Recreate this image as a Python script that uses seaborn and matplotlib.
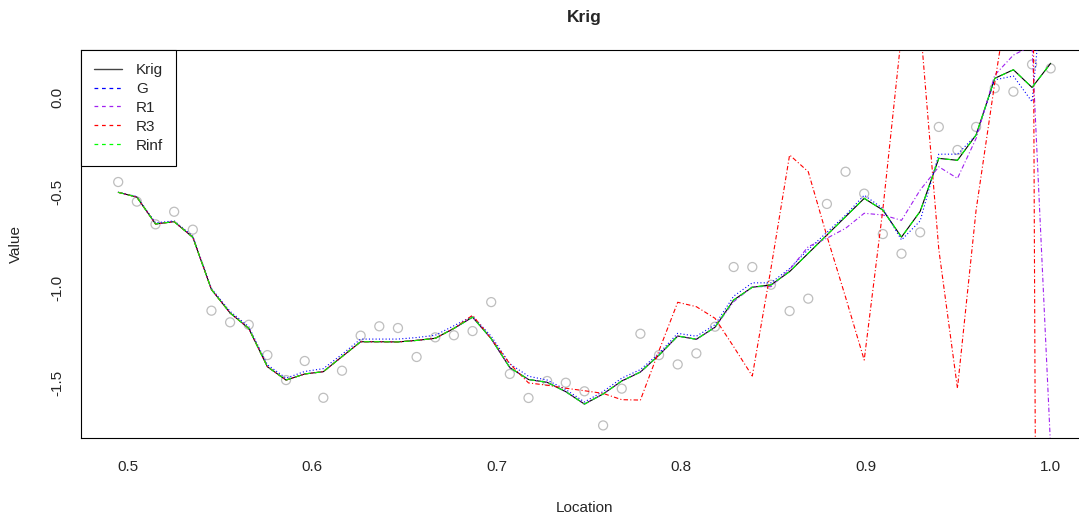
import numpy as np
import pandas as pd
import matplotlib
matplotlib.use("Agg")
import matplotlib.pyplot as plt
from matplotlib.lines import Line2D
import seaborn as sns

# ---------------- data ----------------
idx = list(range(49, 100))
location = [k / 99 for k in idx]

obs = [-0.446, -0.549, -0.668, -0.602, -0.696, -1.121, -1.182, -1.195, -1.354, -1.485,
       -1.385, -1.578, -1.436, -1.252, -1.203, -1.212, -1.364, -1.261, -1.250, -1.228,
       -1.076, -1.453, -1.579, -1.490, -1.499, -1.544, -1.723, -1.530, -1.242, -1.354,
       -1.403, -1.345, -1.205, -0.892, -0.892, -0.985, -1.123, -1.058, -0.561, -0.392,
       -0.507, -0.719, -0.822, -0.710, -0.157, -0.278, -0.157, 0.046, 0.028, 0.171,
       0.150]

krig = [-0.500, -0.525, -0.666, -0.654, -0.736, -1.010, -1.133, -1.214, -1.415, -1.485,
        -1.453, -1.441, -1.362, -1.284, -1.284, -1.285, -1.277, -1.266, -1.214, -1.155,
        -1.268, -1.420, -1.482, -1.497, -1.546, -1.611, -1.558, -1.490, -1.443, -1.354,
        -1.254, -1.271, -1.208, -1.065, -0.998, -0.986, -0.916, -0.820, -0.724, -0.628,
        -0.532, -0.593, -0.735, -0.600, -0.322, -0.332, -0.199, 0.098, 0.143, 0.050,
        0.177]

g = [-0.500, -0.522, -0.660, -0.650, -0.730, -1.005, -1.125, -1.205, -1.405, -1.475,
     -1.440, -1.425, -1.350, -1.270, -1.270, -1.270, -1.262, -1.250, -1.200, -1.150,
     -1.255, -1.400, -1.465, -1.485, -1.535, -1.600, -1.545, -1.475, -1.430, -1.345,
     -1.240, -1.255, -1.195, -1.045, -0.975, -0.975, -0.900, -0.800, -0.710, -0.620,
     -0.515, -0.585, -0.750, -0.650, -0.300, -0.300, -0.200, 0.090, 0.110, -0.025,
     1.000]

r1 = [-0.500, -0.525, -0.666, -0.654, -0.736, -1.010, -1.133, -1.214, -1.415, -1.485,
      -1.453, -1.441, -1.362, -1.284, -1.284, -1.285, -1.277, -1.266, -1.214, -1.155,
      -1.268, -1.420, -1.482, -1.497, -1.546, -1.611, -1.558, -1.490, -1.443, -1.354,
      -1.254, -1.271, -1.208, -1.074, -0.995, -0.995, -0.905, -0.785, -0.741, -0.689,
      -0.610, -0.619, -0.647, -0.488, -0.366, -0.427, -0.217, 0.115, 0.220, 0.270,
      -1.850]

r3 = [-0.500, -0.525, -0.666, -0.654, -0.736, -1.010, -1.133, -1.214, -1.415, -1.485,
      -1.453, -1.441, -1.362, -1.284, -1.284, -1.285, -1.277, -1.266, -1.214, -1.145,
      -1.268, -1.400, -1.500, -1.512, -1.528, -1.541, -1.555, -1.588, -1.590, -1.330,
      -1.077, -1.100, -1.161, -1.310, -1.464, -0.900, -0.304, -0.392, -0.730, -1.050,
      -1.380, -0.590, 0.330, 0.390, -0.800, -1.528, -0.593, 0.074, 0.700, 2.000,
      -20.0]

rinf = [-0.500, -0.525, -0.666, -0.654, -0.736, -1.010, -1.133, -1.214, -1.415, -1.485,
        -1.453, -1.441, -1.362, -1.284, -1.284, -1.285, -1.277, -1.266, -1.214, -1.155,
        -1.268, -1.420, -1.482, -1.497, -1.546, -1.611, -1.558, -1.490, -1.443, -1.354,
        -1.254, -1.271, -1.208, -1.065, -0.998, -0.986, -0.916, -0.820, -0.724, -0.628,
        -0.532, -0.593, -0.735, -0.600, -0.322, -0.332, -0.199, 0.098, 0.143, 0.050,
        0.177]

series_names = ["Krig", "G", "R1", "R3", "Rinf"]
series_colors = ["black", "#0000FF", "#A020F0", "#FF0000", "#00FF00"]
x_ticks = [0.5, 0.6, 0.7, 0.8, 0.9, 1.0]
y_ticks = [0.0, -0.5, -1.0, -1.5]

# ---------------- figure ----------------
sns.set_style("white")
plt.rcParams["font.family"] = ["Liberation Sans", "DejaVu Sans"]

W, H = 1079, 516
fig = plt.figure(figsize=(W / 100, H / 100), dpi=100)
ax = fig.add_axes([81 / W, 78 / H, 1007 / W, 388 / H])

df_pts = pd.DataFrame({"Location": location, "Value": obs})
sns.scatterplot(data=df_pts, x="Location", y="Value", ax=ax, marker="o",
                facecolor="none", edgecolor="#BEBEBE", linewidth=0.9, s=42,
                zorder=2, legend=False)

styles = {
    "Krig": dict(linestyle="-", lw=0.8),
    "G": dict(linestyle=(0, (1, 2)), lw=0.8),
    "R1": dict(linestyle=(0, (4, 2, 1, 2)), lw=0.8),
    "R3": dict(linestyle=(0, (4, 2, 1, 2)), lw=0.8),
    "Rinf": dict(linestyle=(0, (5, 4)), lw=0.8),
}
values = {"Krig": krig, "G": g, "R1": r1, "R3": r3, "Rinf": rinf}
for name, col in zip(series_names, series_colors):
    d = pd.DataFrame({"Location": location, "Value": values[name]})
    sns.lineplot(data=d, x="Location", y="Value", ax=ax, color=col,
                 sort=False, estimator=None, zorder=3, **styles[name])

ax.set_xlim(0.4748, 1.0202)
ax.set_ylim(-1.789, 0.2466)
ax.set_xticks(x_ticks)
ax.set_xticklabels([f"{v:.1f}" for v in x_ticks])
ax.set_yticks(y_ticks)
ax.set_yticklabels([f"{v:.1f}" for v in y_ticks])
ax.tick_params(axis="both", direction="out", length=5, width=0.8, color="black",
               labelsize=11)
ax.tick_params(axis="x", pad=11)
ax.tick_params(axis="y", pad=7)
for lbl in ax.get_yticklabels():
    lbl.set_rotation(90)
    lbl.set_va("center")
for s in ["left", "bottom", "top"]:
    ax.spines[s].set_visible(True)
    ax.spines[s].set_color("black")
    ax.spines[s].set_linewidth(0.8)
ax.spines["right"].set_visible(False)

ax.set_xlabel("Location", fontsize=11, labelpad=19)
ax.set_ylabel("Value", fontsize=11, labelpad=20)
ax.set_title("Krig", fontsize=12.5, fontweight="bold", pad=20)

handles = [Line2D([], [], color="#444444", lw=1.0, linestyle="-")]
for col in series_colors[1:]:
    handles.append(Line2D([], [], color=col, lw=0.9, linestyle=(0, (3, 3))))
leg = ax.legend(handles, series_names, loc="upper left", bbox_to_anchor=(0, 1),
                borderaxespad=0, fancybox=False, framealpha=1, edgecolor="black",
                fontsize=11, handlelength=1.85, handletextpad=0.9, labelspacing=0.32,
                borderpad=0.85)
leg.get_frame().set_linewidth(0.8)

fig.savefig("out.png", dpi=100)
